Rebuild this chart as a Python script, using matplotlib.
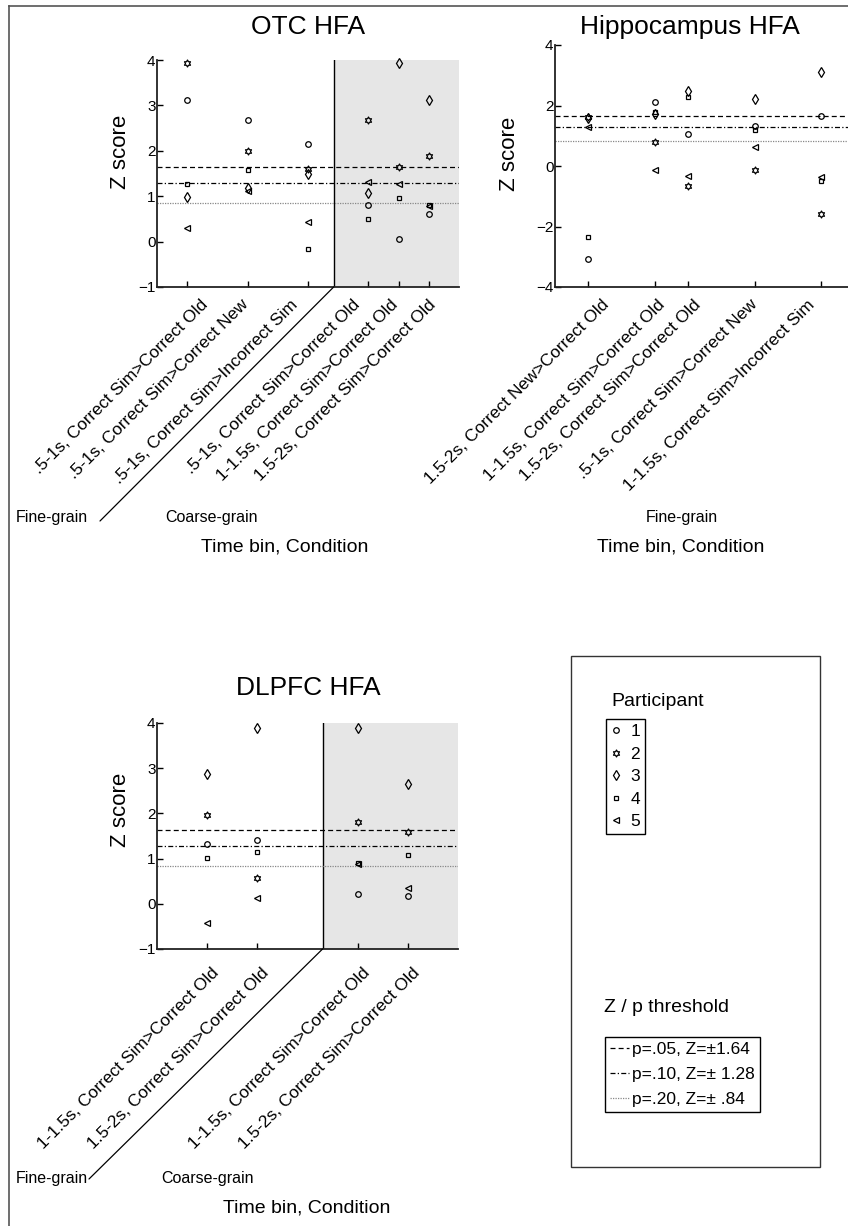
import numpy as np
import matplotlib
matplotlib.use('Agg')
import matplotlib.pyplot as plt
import matplotlib.transforms as mtransforms
from matplotlib.patches import ConnectionPatch, Rectangle
from matplotlib.lines import Line2D
from matplotlib.path import Path

plt.rcParams['font.family'] = ['Liberation Sans', 'DejaVu Sans']

# ---- data ----
participants = ['1', '2', '3', '4', '5']

otc_pos = [1, 3, 5, 7, 8, 9]
otc_labels = ['.5-1s, Correct Sim>Correct Old', '.5-1s, Correct Sim>Correct New',
              '.5-1s, Correct Sim>Incorrect Sim', '.5-1s, Correct Sim>Correct Old',
              '1-1.5s, Correct Sim>Correct Old', '1.5-2s, Correct Sim>Correct Old']
otc_p1 = [3.11, 2.67, 2.16, 0.81, 0.05, 0.61]
otc_p2 = [3.93, 2.00, 1.61, 2.67, 1.64, 1.89]
otc_p3 = [0.98, 1.18, 1.50, 1.08, 3.93, 3.12]
otc_p4 = [1.27, 1.58, -0.16, 0.50, 0.97, 0.80]
otc_p5 = [0.31, 1.12, 0.43, 1.31, 1.27, 0.78]

hip_pos = [1, 3, 4, 6, 8]
hip_labels = ['1.5-2s, Correct New>Correct Old', '1-1.5s, Correct Sim>Correct Old',
              '1.5-2s, Correct Sim>Correct Old', '.5-1s, Correct Sim>Correct New',
              '1-1.5s, Correct Sim>Incorrect Sim']
hip_p1 = [-3.08, 2.13, 1.07, 1.32, 1.64]
hip_p2 = [1.63, 0.79, -0.67, -0.12, -1.60]
hip_p3 = [1.58, 1.72, 2.49, 2.20, 3.10]
hip_p4 = [-2.35, 1.80, 2.27, 1.18, -0.49]
hip_p5 = [1.29, -0.12, -0.34, 0.63, -0.36]

dl_pos = [1, 2, 4, 5]
dl_labels = ['1-1.5s, Correct Sim>Correct Old', '1.5-2s, Correct Sim>Correct Old',
             '1-1.5s, Correct Sim>Correct Old', '1.5-2s, Correct Sim>Correct Old']
dl_p1 = [1.33, 1.41, 0.21, 0.17]
dl_p2 = [1.97, 0.56, 1.81, 1.59]
dl_p3 = [2.88, 3.89, 3.89, 2.66]
dl_p4 = [1.01, 1.15, 0.91, 1.08]
dl_p5 = [-0.43, 0.12, 0.89, 0.35]

thresholds = [1.64, 1.28, 0.84]
thr_labels = ['p=.05, Z=\u00b11.64', 'p=.10, Z=\u00b1 1.28', 'p=.20, Z=\u00b1 .84']

# ---- styles ----
W, H = 848, 1226
ang = np.pi / 2 + np.arange(12) * np.pi / 6
rad = np.where(np.arange(12) % 2 == 0, 1.0, 1 / np.sqrt(3))
verts = np.column_stack([rad * np.cos(ang), rad * np.sin(ang)])
hexagram = Path(np.vstack([verts, verts[:1]]), closed=True)

markers = ['o', hexagram, 'd', 's', '<']
msizes = [4, 5, 5.5, 3.2, 4.2]
thr_styles = [((0, (4, 2.5)), 'black', 0.9), ((0, (4, 1.8, 1, 1.8)), 'black', 0.9),
              ((0, (1, 1)), '#888888', 0.9)]


def fx(px):
    return px / W


def fy(py):
    return 1 - py / H


fig = plt.figure(figsize=(W / 100, H / 100), dpi=100)


def panel(rect, pos, vals, labels, xlim, ylim, yticks, lab_dx, lab_dy, shade=None):
    ax = fig.add_axes([fx(rect[0]), fy(rect[3]), fx(rect[2] - rect[0]), (rect[3] - rect[1]) / H])
    if shade is not None:
        ax.axvspan(shade, xlim[1], color='#e6e6e6', lw=0, zorder=0)
        ax.axvline(shade, color='black', lw=1, zorder=1)
    for t, (ls, c, lw) in zip(thresholds, thr_styles):
        ax.axhline(t, ls=ls, color=c, lw=lw, zorder=2)
    for v, m, ms in zip(vals, markers, msizes):
        ax.plot(pos, v, ls='none', marker=m, ms=ms, mfc='none', mec='black', mew=0.9,
                zorder=3, clip_on=False)
    ax.set_xlim(xlim)
    ax.set_ylim(ylim)
    ax.set_yticks(yticks)
    ax.set_xticks(pos)
    ax.set_xticklabels([])
    for s in ['top', 'right']:
        ax.spines[s].set_visible(False)
    for s in ['left', 'bottom']:
        ax.spines[s].set_linewidth(1.3)
        ax.spines[s].set_color('#222222')
    ax.tick_params(direction='in', length=4.5, width=1, labelsize=11, pad=1)
    ax.patch.set_alpha(0)
    base = mtransforms.blended_transform_factory(ax.transData, ax.transAxes)
    for p, lab, dx in zip(pos, labels, lab_dx):
        trans = base + mtransforms.ScaledTranslation(dx / 100, -lab_dy / 100, fig.dpi_scale_trans)
        ax.text(p, 0, lab, transform=trans, rotation=45, ha='right', va='top',
                rotation_mode='anchor', fontsize=12.5)
    return ax


ax1 = panel((157, 60, 459, 287), otc_pos, [otc_p1, otc_p2, otc_p3, otc_p4, otc_p5],
            otc_labels, (0, 10), (-1, 4), range(-1, 5),
            lab_dx=[13, -7, -18, -16, -9, -1], lab_dy=10, shade=5.85)
ax2 = panel((555, 45, 848, 287), hip_pos, [hip_p1, hip_p2, hip_p3, hip_p4, hip_p5],
            hip_labels, (0, 8.8), (-4, 4), [-4, -2, 0, 2, 4],
            lab_dx=[13, 2, 5, -5, -14], lab_dy=10)
ax3 = panel((157, 723, 458, 949), dl_pos, [dl_p1, dl_p2, dl_p3, dl_p4, dl_p5],
            dl_labels, (0, 6), (-1, 4), range(-1, 5),
            lab_dx=[4, 4, 4, 4], lab_dy=16, shade=3.3)

# titles and axis labels
fig.text(fx(308), fy(27), 'OTC HFA', fontsize=19, ha='center', va='center')
fig.text(fx(690), fy(27), 'Hippocampus HFA', fontsize=19, ha='center', va='center')
fig.text(fx(308), fy(688), 'DLPFC HFA', fontsize=19, ha='center', va='center')
for x, y in [(120, 152), (510, 154), (120, 810)]:
    fig.text(fx(x), fy(y), 'Z score', fontsize=16, rotation=90, ha='center', va='center')
for x, y in [(285, 547), (681, 547), (307, 1208)]:
    fig.text(fx(x), fy(y), 'Time bin, Condition', fontsize=14, ha='center', va='center')

# fine / coarse grain separators
for ax, sx, ex, ey, cx, ty in [(ax1, 5.85, 100, 521, 211, 517), (ax3, 3.3, 89, 1179, 208, 1179)]:
    cp = ConnectionPatch(xyA=(sx, ax.get_ylim()[0]), coordsA=ax.transData,
                         xyB=(fx(ex), fy(ey)), coordsB=fig.transFigure, color='black', lw=0.9)
    fig.add_artist(cp)
    fig.text(fx(16), fy(ty), 'Fine-grain', fontsize=11.5, ha='left', va='center')
    fig.text(fx(cx), fy(ty), 'Coarse-grain', fontsize=11.5, ha='center', va='center')
fig.text(fx(682), fy(517), 'Fine-grain', fontsize=11.5, ha='center', va='center')

# legend panel
fig.add_artist(Rectangle((fx(571), fy(1167)), fx(820 - 571), (1167 - 656) / H,
                         transform=fig.transFigure, fill=False, ec='#333333', lw=1))
fig.text(fx(611), fy(701), 'Participant', fontsize=14, ha='left', va='center')
p_handles = [Line2D([], [], ls='none', marker=m, ms=ms, mfc='none', mec='black', mew=0.9)
             for m, ms in zip(markers, msizes)]
leg1 = fig.legend(p_handles, participants, loc='upper left', bbox_to_anchor=(fx(606), fy(719)),
                  fontsize=12.5, frameon=True, fancybox=False, edgecolor='black', framealpha=1,
                  handlelength=0.6, handletextpad=0.5, borderpad=0.3, labelspacing=0.42,
                  borderaxespad=0)
leg1.get_frame().set_linewidth(1)

fig.text(fx(604), fy(1007), 'Z / p threshold', fontsize=14, ha='left', va='center')
t_handles = [Line2D([], [], ls=ls, color=c, lw=0.9) for ls, c, lw in thr_styles]
leg2 = fig.legend(t_handles, thr_labels, loc='upper left', bbox_to_anchor=(fx(605), fy(1037)),
                  fontsize=12.5, frameon=True, fancybox=False, edgecolor='black', framealpha=1,
                  handlelength=1.1, handletextpad=0.15, borderpad=0.3, labelspacing=0.55,
                  borderaxespad=0)
leg2.get_frame().set_linewidth(1)

# outer frame (left and top edges visible)
fig.add_artist(Line2D([fx(9), fx(9)], [fy(6), 0], transform=fig.transFigure, color='#555555', lw=1.2))
fig.add_artist(Line2D([fx(9), 1], [fy(6), fy(6)], transform=fig.transFigure, color='#555555', lw=1.2))

fig.savefig('out.png', dpi=100)
